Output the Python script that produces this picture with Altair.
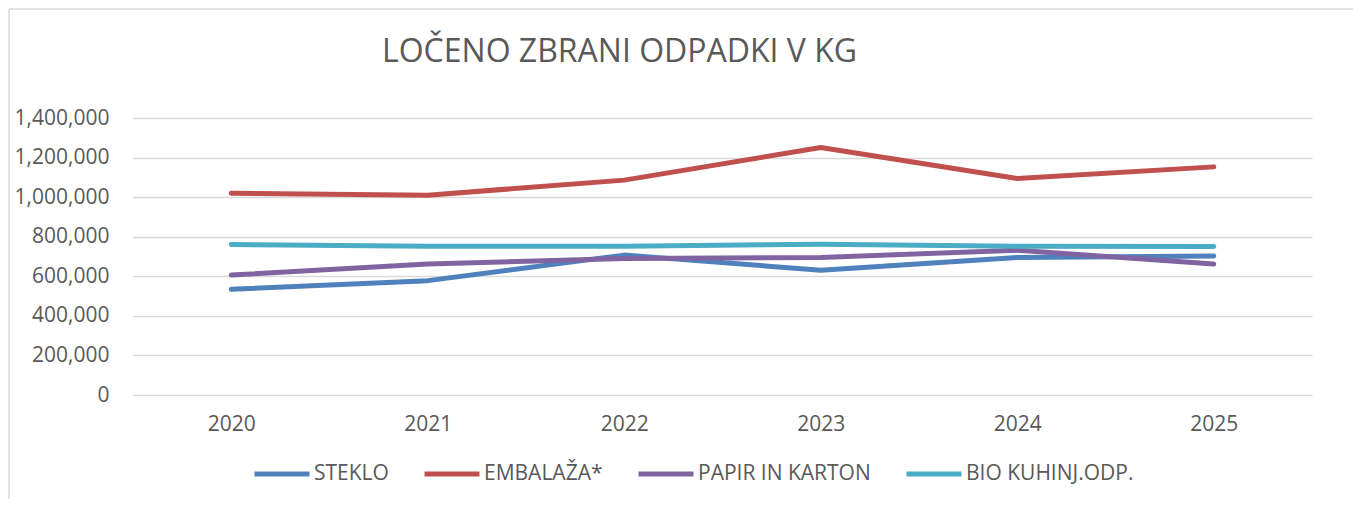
import altair as alt
import pandas as pd

years = ["2020", "2021", "2022", "2023", "2024", "2025"]
series_names = ["STEKLO", "EMBALAŽA*", "PAPIR IN KARTON", "BIO KUHINJ.ODP."]
steklo = [534000, 578000, 707000, 631000, 695000, 702000]
embalaza = [1020000, 1010000, 1086000, 1251000, 1094000, 1153000]
papir = [606000, 662000, 690000, 695000, 732000, 662000]
bio = [761000, 752000, 752000, 762000, 752000, 751000]
colors = ["#4F81BD", "#C0504D", "#8064A2", "#4BACC6"]
y_ticks = [0, 200000, 400000, 600000, 800000, 1000000, 1200000, 1400000]

rows = []
for name, vals in zip(series_names, [steklo, embalaza, papir, bio]):
    for yr, v in zip(years, vals):
        rows.append({"leto": yr, "serija": name, "kg": v})
df = pd.DataFrame(rows)

FONT = "Open Sans"
GRAY = "#595959"

lines = alt.Chart(df).mark_line(strokeWidth=5, strokeCap="round", strokeJoin="round").encode(
    x=alt.X("leto:O", sort=years, title=None,
            scale=alt.Scale(type="point", padding=0.5),
            axis=alt.Axis(labelAngle=0, labelFontSize=21, labelColor=GRAY, labelFont=FONT,
                          labelPadding=18, domain=False, ticks=False, grid=False)),
    y=alt.Y("kg:Q", title=None,
            scale=alt.Scale(domain=[0, 1400000], nice=False),
            axis=alt.Axis(values=y_ticks, format=",d", labelFontSize=21, labelColor=GRAY,
                          labelFont=FONT, labelPadding=24, domain=False, ticks=False,
                          grid=True, gridColor="#D9D9D9", gridWidth=1.5)),
    color=alt.Color("serija:N", sort=series_names,
                    scale=alt.Scale(domain=series_names, range=colors),
                    legend=alt.Legend(title=None, orient="none", direction="horizontal",
                                      legendX=119, legendY=326,
                                      symbolType="stroke", symbolSize=3025,
                                      symbolStrokeWidth=5, labelFontSize=21,
                                      labelColor=GRAY, labelFont=FONT, labelOffset=2,
                                      labelLimit=400, columnPadding=25)),
)

frame = pd.DataFrame({"k": [0]})
border_left = alt.Chart(frame).mark_rule(color="#D9D9D9", strokeWidth=1.5).encode(
    x=alt.value(-124), y=alt.value(-109), y2=alt.value(400))
border_top = alt.Chart(frame).mark_rule(color="#D9D9D9", strokeWidth=1.5).encode(
    x=alt.value(-124), x2=alt.value(1240), y=alt.value(-109))

chart = alt.layer(border_left, border_top, lines).properties(
    width=1179, height=277,
    autosize=alt.AutoSizeParams(type="none"),
    padding={"left": 125, "top": 110, "right": 41, "bottom": 104},
    title=alt.TitleParams("LOČENO ZBRANI ODPADKI V KG", anchor="start", frame="group",
                          dx=249, fontSize=32, font=FONT, fontWeight="normal",
                          color=GRAY, baseline="alphabetic", offset=-86),
).configure_view(stroke=None)

chart.save("out.html", embed_options={"renderer": "svg", "actions": False})
